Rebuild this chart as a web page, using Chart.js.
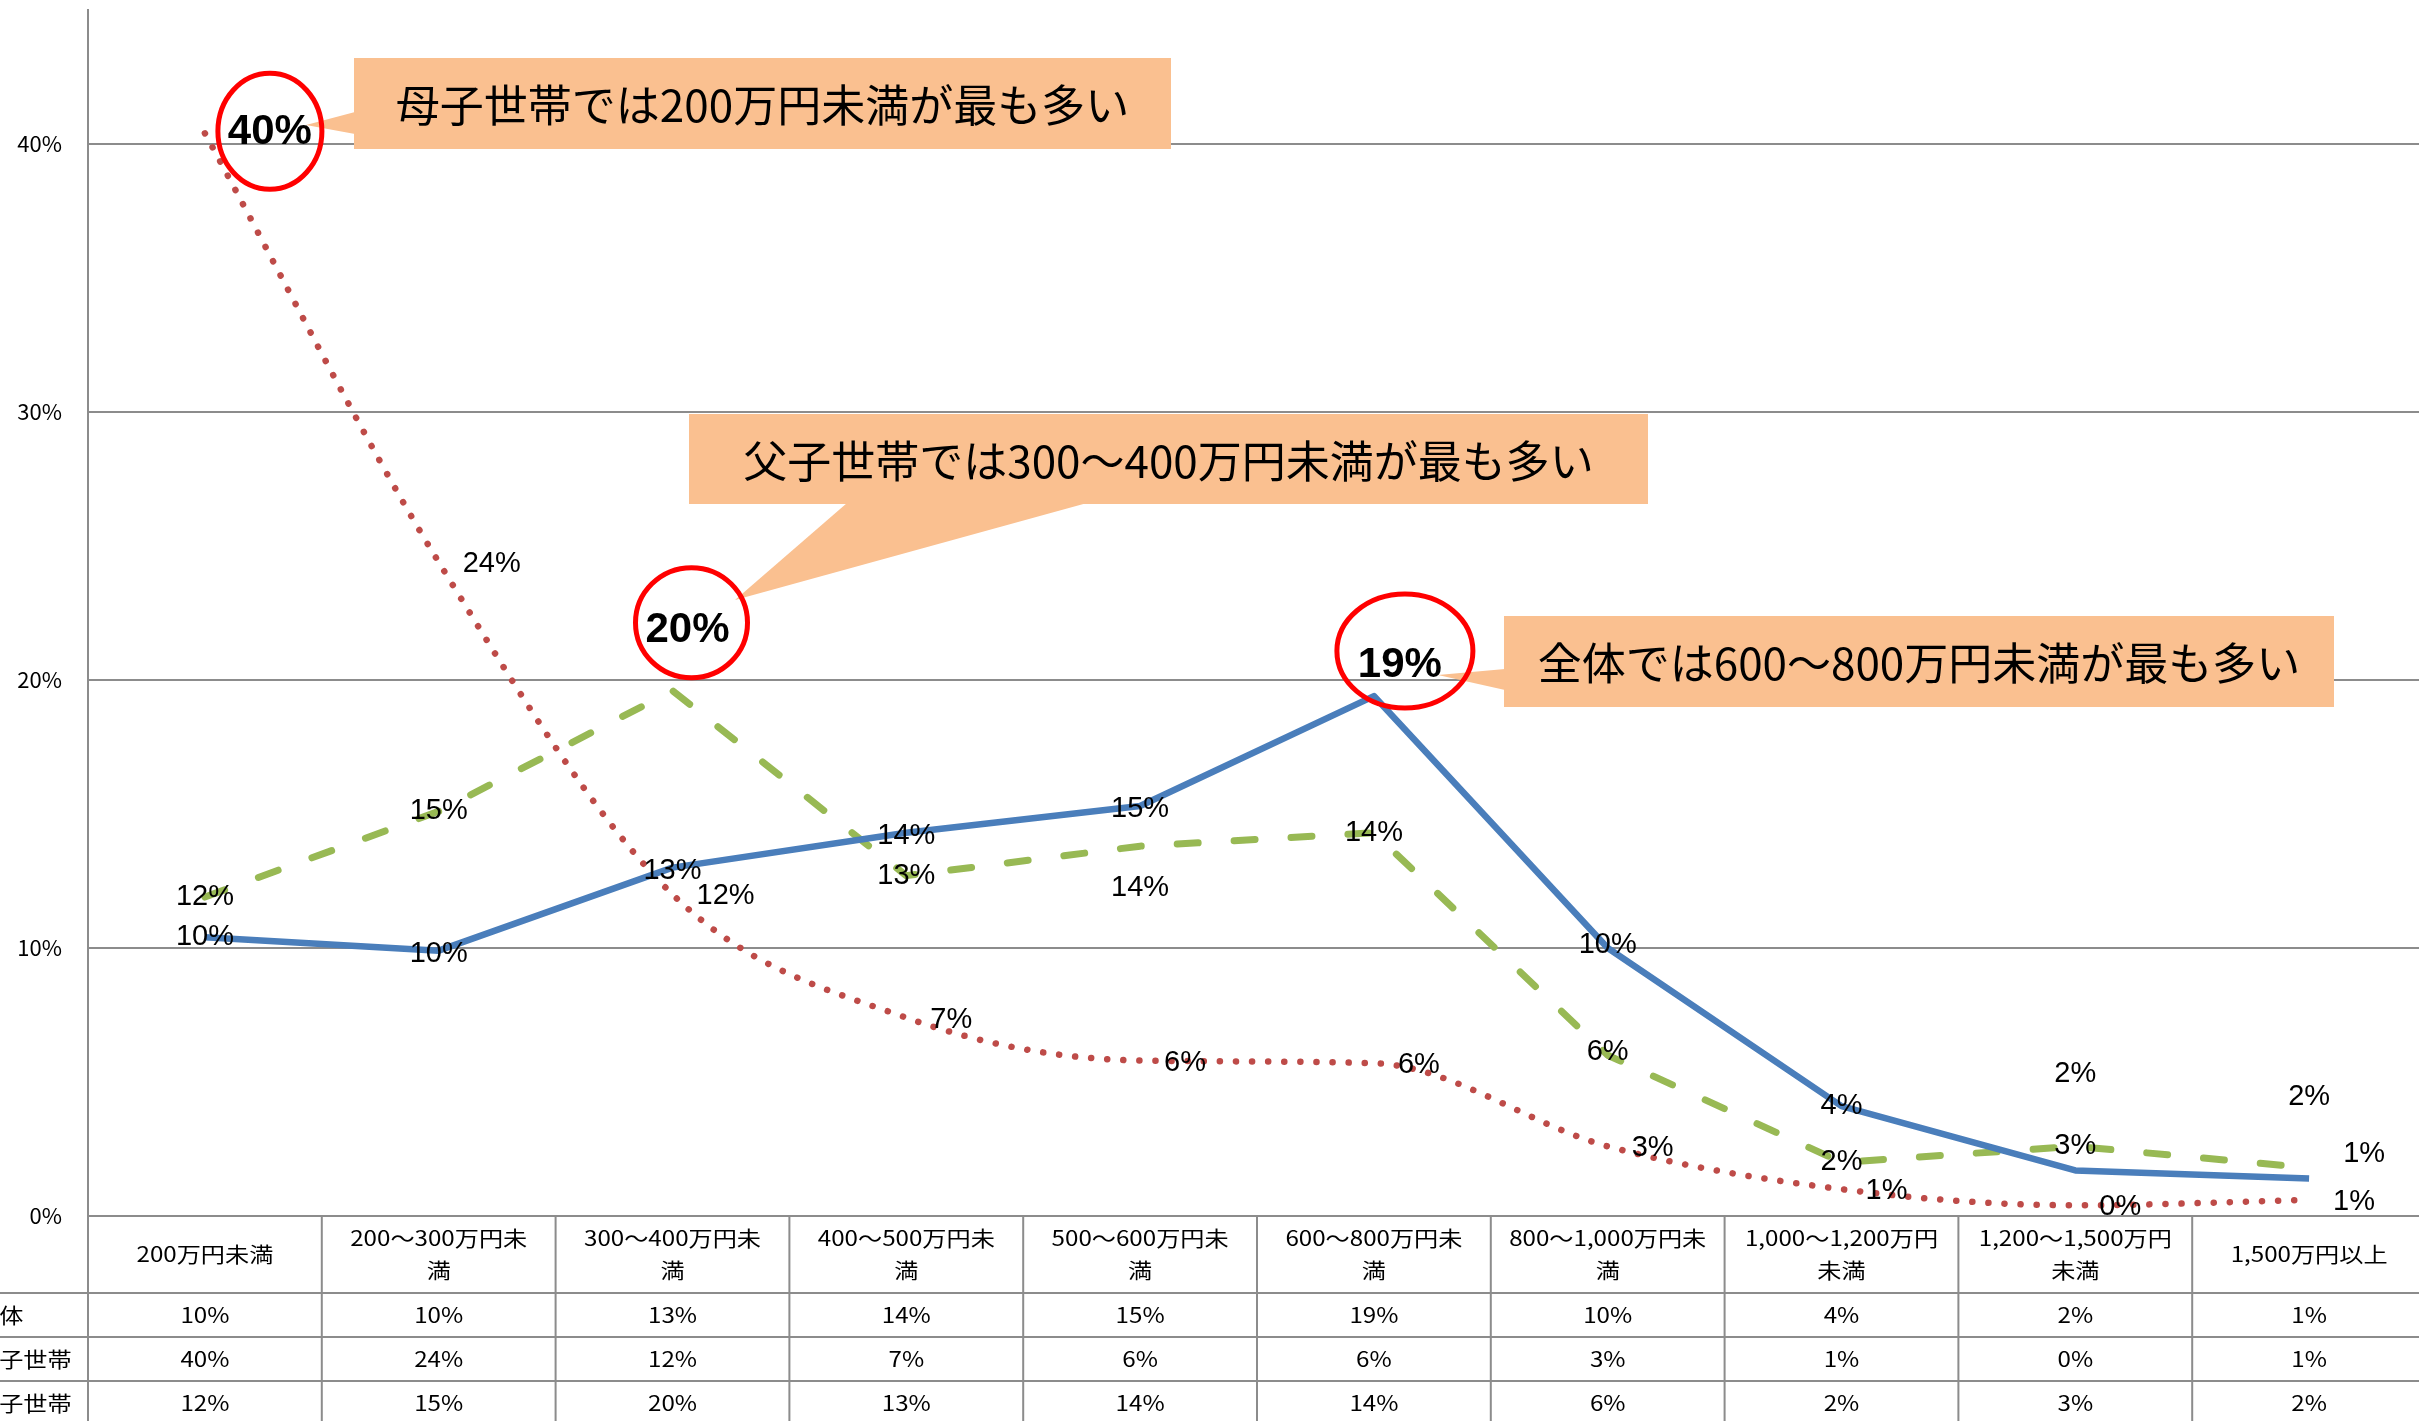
<!DOCTYPE html>
<html lang="ja">
<head>
<meta charset="utf-8">
<title>世帯類型別 所得分布</title>
<script src="https://cdn.jsdelivr.net/npm/chart.js@4.4.1/dist/chart.umd.min.js"></script>
<style>
  html, body { margin: 0; padding: 0; background: #fff; overflow: hidden; }
  #wrap { width: 2426px; height: 1421px; }
</style>
</head>
<body>
<div id="wrap"><canvas id="incomeChart" width="2426" height="1421"></canvas></div>
<script>
// --- data (percent) ---
const categories = [
  ['200万円未満'],
  ['200～300万円未', '満'],
  ['300～400万円未', '満'],
  ['400～500万円未', '満'],
  ['500～600万円未', '満'],
  ['600～800万円未', '満'],
  ['800～1,000万円未', '満'],
  ['1,000～1,200万円', '未満'],
  ['1,200～1,500万円', '未満'],
  ['1,500万円以上']
];
const seriesNames = ['全体', '母子世帯', '父子世帯'];
const zentai = [10.4, 9.9, 13.0, 14.3, 15.3, 19.4, 10.0, 4.1, 1.7, 1.4];
const boshi = [40.4, 24.4, 12.0, 7.4, 5.8, 5.7, 2.6, 1.0, 0.4, 0.6];
const fushi = [11.9, 15.1, 19.6, 12.7, 13.8, 14.3, 6.0, 2.0, 2.6, 1.8];
const yTicks = [0, 10, 20, 30, 40];
const calloutTexts = [
  '母子世帯では200万円未満が最も多い',
  '父子世帯では300～400万円未満が最も多い',
  '全体では600～800万円未満が最も多い'
];

// --- styles ---
const COLORS = {
  zentai: '#4a7ebb',
  boshi: '#be4b48',
  fushi: '#98b954',
  grid: '#8c8c8c',
  callout: '#fac090',
  ring: '#ff0000',
  text: '#000000'
};
const JP_FONT = "'Noto Sans CJK JP', sans-serif";
const LATIN_FONT = "'Liberation Sans', Arial, sans-serif";

// data label nudges in px: [dx, dy] per point, null = default placement
const labelNudges = [
  [null, [0, 3], [0, 3], [0, 3], [0, 3], 'ring', [0, -3], null, [0, -96], [55, -24]],
  ['ring', null, null, null, null, null, null, null, null, null],
  [null, null, 'ring', null, [0, 42], null, [0, -3], null, null, [0, -71]]
];

// circled labels: dataset, index, text offset, ellipse offset + radii
const rings = [
  { ds: 1, i: 0, text: [65, -1], ell: [65, -2], rx: 52, ry: 58 },
  { ds: 2, i: 2, text: [15, -60], ell: [19, -68], rx: 56, ry: 55 },
  { ds: 0, i: 5, text: [26, -31], ell: [31, -45], rx: 68, ry: 57 }
];

// callout boxes with pointer polygons
const callouts = [
  { box: [354, 58, 817, 91], pointer: [[355, 112], [306, 125], [355, 134]] },
  { box: [689, 414, 959, 90], pointer: [[847, 503], [735, 600], [1087, 503]] },
  { box: [1504, 616, 830, 91], pointer: [[1505, 669], [1438, 675], [1505, 690]] }
];

const pct = (v) => Math.round(v) + '%';

function scaledText(ctx, text, x, y, align, sx) {
  ctx.save();
  ctx.translate(x, y);
  ctx.scale(sx, 1);
  ctx.textAlign = align;
  ctx.textBaseline = 'middle';
  ctx.fillText(text, 0, 0);
  ctx.restore();
}

const dataLabels = {
  id: 'dataLabels',
  afterDatasetsDraw(chart) {
    const { ctx } = chart;
    ctx.save();
    ctx.fillStyle = COLORS.text;
    ctx.font = '29px ' + LATIN_FONT;
    ctx.textBaseline = 'middle';
    chart.data.datasets.forEach((ds, d) => {
      chart.getDatasetMeta(d).data.forEach((pt, i) => {
        const nudge = labelNudges[d][i];
        if (nudge === 'ring') return;
        const [dx, dy] = nudge || [0, 0];
        if (d === 1) {
          ctx.textAlign = 'left';
          ctx.fillText(pct(ds.data[i]), pt.x + 24 + dx, pt.y + 2 + dy);
        } else {
          ctx.textAlign = 'center';
          ctx.fillText(pct(ds.data[i]), pt.x + dx, pt.y + dy);
        }
      });
    });
    ctx.restore();
  }
};

const annotations = {
  id: 'annotations',
  afterDraw(chart) {
    const { ctx } = chart;
    ctx.save();
    // callouts
    callouts.forEach((c, k) => {
      const [bx, by, bw, bh] = c.box;
      ctx.fillStyle = COLORS.callout;
      ctx.fillRect(bx, by, bw, bh);
      ctx.beginPath();
      c.pointer.forEach(([px, py], j) => (j ? ctx.lineTo(px, py) : ctx.moveTo(px, py)));
      ctx.closePath();
      ctx.fill();
      ctx.fillStyle = COLORS.text;
      ctx.font = '44px ' + JP_FONT;
      ctx.textAlign = 'center';
      ctx.textBaseline = 'middle';
      ctx.fillText(calloutTexts[k], bx + bw / 2, by + bh / 2 + 2);
    });
    // rings + bold labels
    rings.forEach((r) => {
      const pt = chart.getDatasetMeta(r.ds).data[r.i];
      ctx.strokeStyle = COLORS.ring;
      ctx.lineWidth = 5;
      ctx.beginPath();
      ctx.ellipse(pt.x + r.ell[0], pt.y + r.ell[1], r.rx, r.ry, 0, 0, Math.PI * 2);
      ctx.stroke();
      ctx.fillStyle = COLORS.text;
      ctx.font = 'bold 42px ' + LATIN_FONT;
      ctx.textAlign = 'center';
      ctx.textBaseline = 'middle';
      ctx.fillText(pct(chart.data.datasets[r.ds].data[r.i]), pt.x + r.text[0], pt.y + r.text[1]);
    });
    ctx.restore();
  }
};

const dataTable = {
  id: 'dataTable',
  afterDraw(chart) {
    const { ctx, chartArea } = chart;
    const top = chartArea.bottom;
    const rows = [top + 77, top + 121, top + 165, top + 209];
    const colW = (chartArea.right - chartArea.left) / categories.length;
    ctx.save();
    ctx.strokeStyle = COLORS.grid;
    ctx.lineWidth = 2;
    ctx.beginPath();
    rows.forEach((y) => { ctx.moveTo(0, y); ctx.lineTo(chartArea.right, y); });
    for (let i = 0; i <= categories.length; i++) {
      const x = chartArea.left + i * colW;
      ctx.moveTo(x, top);
      ctx.lineTo(x, chart.height);
    }
    ctx.stroke();

    ctx.fillStyle = COLORS.text;
    ctx.font = '21px ' + JP_FONT;
    categories.forEach((lines, i) => {
      const cx = chartArea.left + (i + 0.5) * colW;
      const y0 = top + 38 - (lines.length - 1) * 16;
      lines.forEach((ln, j) => scaledText(ctx, ln, cx, y0 + j * 32, 'center', 1.15));
    });
    const values = [zentai, boshi, fushi];
    values.forEach((vals, r) => {
      const cy = rows[r] + 22;
      scaledText(ctx, seriesNames[r], -25, cy, 'left', 1.15);
      vals.forEach((v, i) => {
        scaledText(ctx, pct(v), chartArea.left + (i + 0.5) * colW, cy, 'center', 1.15);
      });
    });
    ctx.restore();
  }
};

new Chart(document.getElementById('incomeChart'), {
  type: 'line',
  data: {
    labels: categories,
    datasets: [
      {
        label: seriesNames[0],
        data: zentai,
        borderColor: COLORS.zentai,
        borderWidth: 6.5,
        borderJoinStyle: 'round',
        pointRadius: 0,
        tension: 0
      },
      {
        label: seriesNames[1],
        data: boshi,
        borderColor: COLORS.boshi,
        borderWidth: 6.5,
        borderDash: [0.1, 16],
        borderCapStyle: 'round',
        pointRadius: 0,
        cubicInterpolationMode: 'monotone'
      },
      {
        label: seriesNames[2],
        data: fushi,
        borderColor: COLORS.fushi,
        borderWidth: 7,
        borderDash: [21, 36],
        borderCapStyle: 'round',
        borderJoinStyle: 'round',
        pointRadius: 0,
        tension: 0
      }
    ]
  },
  options: {
    responsive: false,
    animation: false,
    devicePixelRatio: 1,
    layout: { padding: { top: 10, right: 0, bottom: 205, left: 0 } },
    plugins: {
      legend: { display: false },
      tooltip: { enabled: false }
    },
    scales: {
      x: {
        display: false,
        offset: true
      },
      y: {
        min: 0,
        max: 45,
        afterBuildTicks: (axis) => {
          axis.ticks = yTicks.map((v) => ({ value: v }));
        },
        afterFit: (axis) => {
          axis.width = 88;
          axis.paddingTop = 0;
          axis.paddingBottom = 0;
        },
        grid: { color: COLORS.grid, lineWidth: 2, drawTicks: false },
        border: { display: true, color: COLORS.grid, width: 2 },
        ticks: {
          padding: 26,
          color: COLORS.text,
          font: { family: JP_FONT, size: 22 },
          callback: (v) => v + '%'
        }
      }
    }
  },
  plugins: [dataLabels, annotations, dataTable]
});
</script>
</body>
</html>
